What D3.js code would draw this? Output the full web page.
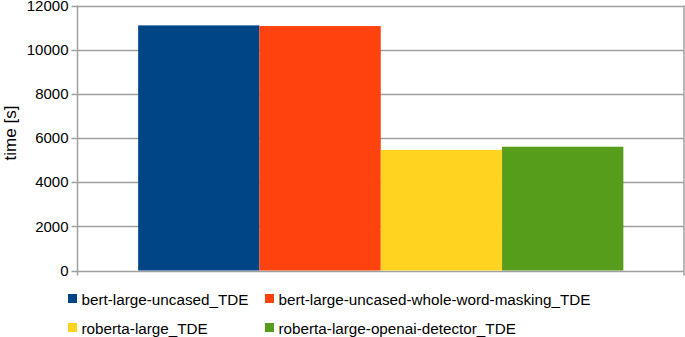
<!DOCTYPE html>
<html>
<head>
<meta charset="utf-8">
<script src="https://cdn.jsdelivr.net/npm/d3@7"></script>
<style>
  body { margin: 0; background: #fff; }
  text { font-family: "Liberation Sans", Arial, sans-serif; }
</style>
</head>
<body>
<div id="chart-area"></div>
<script>
var series = ["bert-large-uncased_TDE", "bert-large-uncased-whole-word-masking_TDE",
              "roberta-large_TDE", "roberta-large-openai-detector_TDE"];
var times = [11100, 11070, 5460, 5605];
var colors = ["#004586", "#ff420e", "#ffd320", "#579d1c"];
var yTicks = [0, 2000, 4000, 6000, 8000, 10000, 12000];

var width = 685, height = 337;
var plot = {left: 77.5, right: 684, top: 5.5, bottom: 270.5};

var svg = d3.select("#chart-area").append("svg")
    .attr("width", width)
    .attr("height", height);

var y = d3.scaleLinear().domain([0, 12000]).range([plot.bottom, plot.top]);

var x = d3.scaleBand()
    .domain(series)
    .range([plot.left, plot.right])
    .paddingInner(0)
    .paddingOuter(0.5);

// grid lines
svg.append("g").selectAll("line")
    .data(yTicks)
    .enter().append("line")
    .attr("x1", plot.left - 6)
    .attr("x2", plot.right)
    .attr("y1", function(d) { return Math.round(y(d)) + 0.5; })
    .attr("y2", function(d) { return Math.round(y(d)) + 0.5; })
    .attr("stroke", "#a0a0a0")
    .attr("stroke-width", 1.5);

// right border
svg.append("line")
    .attr("x1", plot.right).attr("x2", plot.right)
    .attr("y1", y(12000)).attr("y2", y(0) + 5)
    .attr("stroke", "#a0a0a0").attr("stroke-width", 1.5);

// bars
svg.append("g").selectAll("rect")
    .data(series)
    .enter().append("rect")
    .attr("x", function(d) { return x(d); })
    .attr("width", x.bandwidth())
    .attr("y", function(d, i) { return y(times[i]); })
    .attr("height", function(d, i) { return y(0) - y(times[i]); })
    .attr("fill", function(d, i) { return colors[i]; });

// left axis
var leftAxis = d3.axisLeft(y).tickValues(yTicks).tickFormat(d3.format("d")).tickSize(6).tickPadding(3);
var ax = svg.append("g")
    .attr("transform", "translate(" + plot.left + ",0)")
    .call(leftAxis);
ax.select(".domain").remove();
ax.selectAll(".tick line").remove();
ax.selectAll("text")
    .attr("font-family", "Liberation Sans, Arial, sans-serif")
    .attr("font-size", "15px")
    .attr("fill", "#000");

svg.append("line")
    .attr("x1", plot.left).attr("x2", plot.left)
    .attr("y1", y(12000)).attr("y2", y(0) + 5)
    .attr("stroke", "#a0a0a0").attr("stroke-width", 1.5);

svg.append("text")
    .attr("transform", "rotate(-90)")
    .attr("x", -133)
    .attr("y", 16)
    .attr("text-anchor", "middle")
    .attr("font-size", "17px")
    .text("time [s]");

// legend
var legX = [68, 265];
var legY = [298.5, 327.5];
var leg = svg.append("g").selectAll("g")
    .data(series)
    .enter().append("g")
    .attr("transform", function(d, i) {
        return "translate(" + legX[i % 2] + "," + legY[Math.floor(i / 2)] + ")";
    });
leg.append("rect")
    .attr("x", 0).attr("y", -4.5)
    .attr("width", 9).attr("height", 9)
    .attr("fill", function(d, i) { return colors[i]; });
leg.append("text")
    .attr("x", 13.5)
    .attr("y", 6)
    .attr("font-size", "15.25px")
    .text(function(d) { return d; });
</script>
</body>
</html>
